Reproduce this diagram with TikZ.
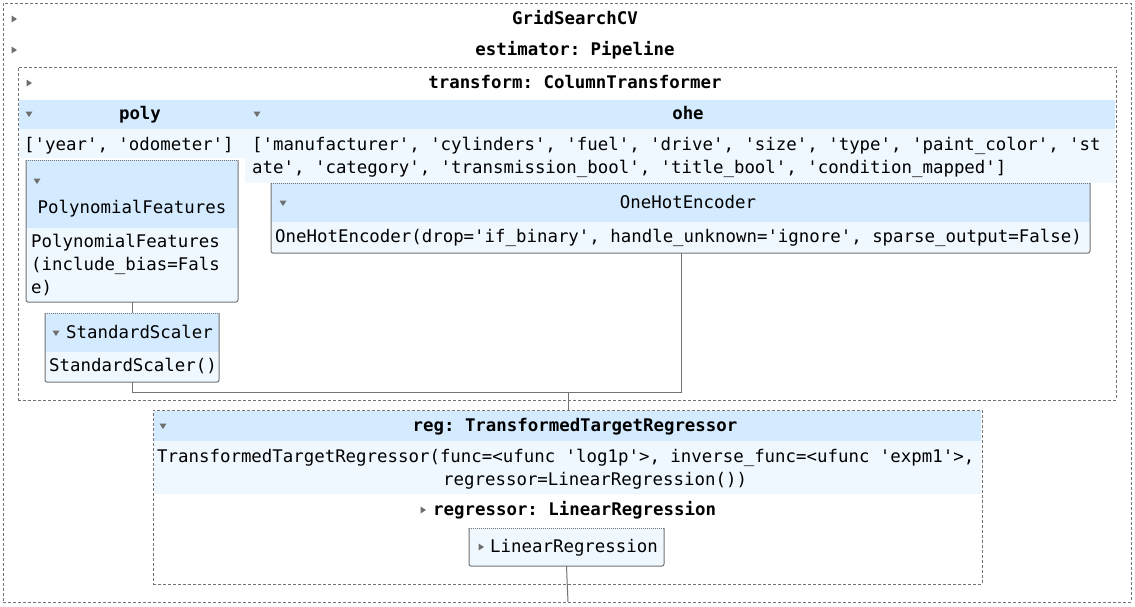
\documentclass[tikz,border=0pt]{standalone}
\usepackage{fontspec}
\setmonofont{DejaVu Sans Mono}
\definecolor{hdr}{HTML}{D4EBFF}
\definecolor{lite}{HTML}{F0F8FF}
\definecolor{edgec}{HTML}{737373}
\definecolor{tric}{HTML}{6E6E6E}
\tikzset{
  txt/.style={inner sep=0pt, anchor=mid west, yshift=-3.5pt, font=\ttfamily\fontsize{17.4}{23}\selectfont},
  ctxt/.style={txt, anchor=mid},
  btxt/.style={inner sep=0pt, anchor=mid, yshift=-3.5pt, font=\ttfamily\bfseries\fontsize{17.4}{23}\selectfont},
  bwtxt/.style={btxt, anchor=mid west},
  band/.style={inner sep=0pt, outer sep=0pt, anchor=north west, draw=none},
  dashbox/.style={draw=edgec, line width=1pt, dash pattern=on 3pt off 2pt},
  edgeline/.style={draw=edgec, line width=1pt},
  dotedge/.style={draw=edgec, line width=1pt, dash pattern=on 1pt off 1pt},
  conn/.style={draw=edgec, line width=1pt},
  rtri/.pic={\fill[tric] (-2.5,-3.5) -- (3,0) -- (-2.5,3.5) -- cycle;},
  dtri/.pic={\fill[tric] (-3.5,-2.5) -- (3.5,-2.5) -- (0,3) -- cycle;},
}
\begin{document}
\begin{tikzpicture}[x=1pt,y=-1pt]
\useasboundingbox (0,0) rectangle (1135,606);
\fill[white] (0,0) rectangle (1135,606);

% ---------- outer GridSearchCV box
\node[band, dashbox, minimum width=1128, minimum height=599] (grid) at (3,3) {};
\pic at (14,19) {rtri};
\node[btxt] (gridt) at (575,19) {GridSearchCV};
\pic at (14,50) {rtri};
\node[btxt] (estt) at (575,50) {estimator: Pipeline};

% ---------- ColumnTransformer box
\node[band, dashbox, minimum width=1098, minimum height=333] (ct) at (18,67) {};
\pic at (29,83) {rtri};
\node[btxt] (ctt) at (575,83) {transform: ColumnTransformer};

% column headers
\node[band, fill=hdr, minimum width=226, minimum height=29] (polyh) at (19,100) {};
\node[band, fill=hdr, minimum width=870, minimum height=29] (oheh) at (245,100) {};
\node[band, fill=lite, minimum width=226, minimum height=29] (polyc) at (19,129) {};
\node[band, fill=lite, minimum width=870, minimum height=54] (ohec) at (245,129) {};
\pic at (29,114) {dtri};
\node[btxt] (polyt) at (140,114) {poly};
\pic at (257,114) {dtri};
\node[btxt] (ohet) at (688,114) {ohe};
\node[txt] (polycols) at (24,145) {['year', 'odometer']};
\node[txt] (ohecols1) at (252,145) {['manufacturer', 'cylinders', 'fuel', 'drive', 'size', 'type', 'paint\_color', 'st};
\node[txt] (ohecols2) at (252,168) {ate', 'category', 'transmission\_bool', 'title\_bool', 'condition\_mapped']};

% ---------- PolynomialFeatures box
\node[band, minimum width=212, minimum height=142] (pf) at (26,160) {};
\node[band, fill=hdr, minimum width=212, minimum height=68] (pfh) at (26,160) {};
\node[band, fill=lite, minimum width=212, minimum height=74] (pfb) at (26,228) {};
\draw[edgeline, rounded corners=2pt] (pf.north west) -- (pf.south west) -- (pf.south east) -- (pf.north east);
\draw[dotedge] (pf.north west) -- (pf.north east);
\pic at (37,181) {dtri};
\node[ctxt] (pft) at (132,208) {PolynomialFeatures};
\node[txt] (pfb1) at (31,242) {PolynomialFeatures};
\node[txt] (pfb2) at (31,265) {(include\_bias=Fals};
\node[txt] (pfb3) at (31,288) {e)};

% ---------- StandardScaler box
\node[band, minimum width=174, minimum height=69] (ss) at (45,313) {};
\node[band, fill=hdr, minimum width=174, minimum height=39] (ssh) at (45,313) {};
\node[band, fill=lite, minimum width=174, minimum height=30] (ssb) at (45,352) {};
\draw[edgeline, rounded corners=2pt] (ss.north west) -- (ss.south west) -- (ss.south east) -- (ss.north east);
\draw[dotedge] (ss.north west) -- (ss.north east);
\pic at (56,333) {dtri};
\node[txt] (sst) at (66,333) {StandardScaler};
\node[txt] (ssb1) at (49,366) {StandardScaler()};

% ---------- OneHotEncoder box
\node[band, minimum width=819, minimum height=70] (oh) at (271,183) {};
\node[band, fill=hdr, minimum width=819, minimum height=39] (ohh) at (271,183) {};
\node[band, fill=lite, minimum width=819, minimum height=31] (ohb) at (271,222) {};
\draw[edgeline, rounded corners=2pt] (oh.north west) -- (oh.south west) -- (oh.south east) -- (oh.north east);
\draw[dotedge] (oh.north west) -- (oh.north east);
\pic at (283,203) {dtri};
\node[ctxt] (oht) at (688,203) {OneHotEncoder};
\node[txt] (ohb1) at (275,237) {OneHotEncoder(drop='if\_binary', handle\_unknown='ignore', sparse\_output=False)};

% ---------- reg box
\node[band, dashbox, minimum width=829, minimum height=174] (reg) at (153,410) {};
\node[band, fill=hdr, minimum width=827, minimum height=30] (regh) at (154,411) {};
\node[band, fill=lite, minimum width=827, minimum height=53] (regb) at (154,441) {};
\pic at (163,426) {dtri};
\node[btxt] (regt) at (575,426) {reg: TransformedTargetRegressor};
\node[txt] (regb1) at (157,457) {TransformedTargetRegressor(func=<ufunc 'log1p'>, inverse\_func=<ufunc 'expm1'>,};
\node[txt] (regb2) at (443,480) {regressor=LinearRegression())};
\pic at (423,510) {rtri};
\node[bwtxt] (regrt) at (433,510) {regressor: LinearRegression};

% ---------- LinearRegression box
\node[band, fill=lite, minimum width=195, minimum height=38] (lr) at (469,528) {};
\draw[edgeline, rounded corners=2pt] (lr.north west) -- (lr.south west) -- (lr.south east) -- (lr.north east);
\draw[dotedge] (lr.north west) -- (lr.north east);
\pic at (481,547) {rtri};
\node[txt] (lrt) at (490,547) {LinearRegression};

% ---------- connectors
\coordinate (joinl) at (132,392);
\coordinate (joinr) at (681,392);
\coordinate (joinm) at (568,392);
\coordinate (bottom) at (568,602);
\draw[conn] (pf.south) -- (ss.north);
\draw[conn] (ss.south) -- (joinl) -- (joinr) -- (joinr |- oh.south);
\draw[conn] (joinm) -- (joinm |- reg.north);
\draw[conn] (lr.south) -- (bottom);
\end{tikzpicture}
\end{document}
